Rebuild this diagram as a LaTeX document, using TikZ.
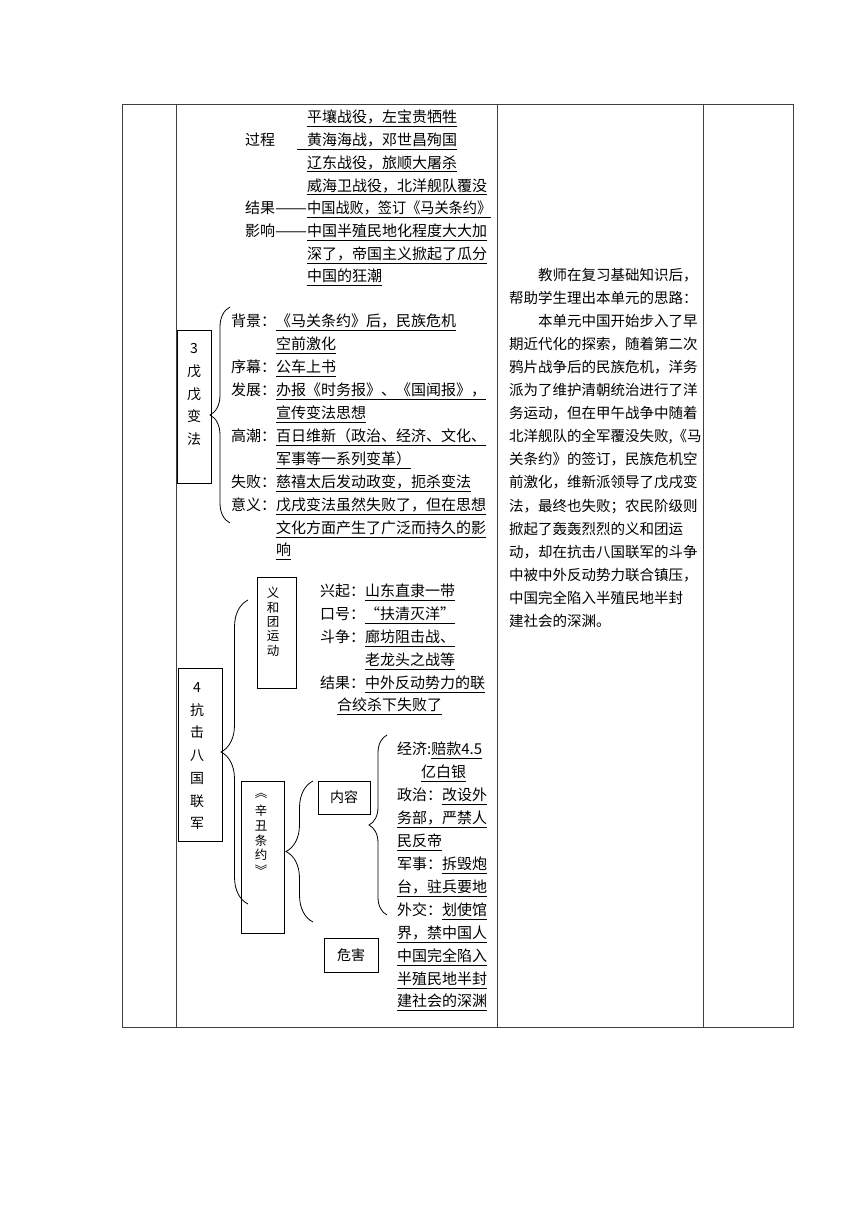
\documentclass[tikz,border=0pt]{standalone}
\usepackage{fontspec}
\setmainfont{Noto Sans CJK SC}
\usepackage{tikz}
\usetikzlibrary{decorations.pathreplacing}

% underline at a fixed depth
\newcommand\ulx[1]{\setbox0\hbox{#1}\rlap{\rule[-3.6pt]{\wd0}{0.6pt}}\box0}
\newcommand\dashx{\resizebox{32pt}{\height}{——}}

\begin{document}
\begin{tikzpicture}[x=1pt,y=-1pt,
    tbl/.style={line width=0.8pt,black!75},
    box/.style={draw,line width=0.9pt},
    txt/.style={anchor=base west,inner sep=0pt,font=\fontsize{15}{18}\selectfont},
    note/.style={anchor=base west,inner sep=0pt,font=\fontsize{14.5}{18}\selectfont},
    vch/.style={inner sep=0pt,font=\fontsize{14}{16}\selectfont},
    vsm/.style={inner sep=0pt,font=\fontsize{12.5}{14}\selectfont},
    brc/.style={decorate,decoration={brace,amplitude=#1},line width=0.8pt}]
    \useasboundingbox (0,0) rectangle (860,1216);

    % table
    \draw[tbl] (122,104) rectangle (793,1027);
    \draw[tbl] (176,104) -- (176,1027) (497,104) -- (497,1027) (703,104) -- (703,1027);

    % jiawu war
    \node[txt] (p1) at (307,122.5) {\ulx{平壤战役，左宝贵牺牲}};
    \node[txt] (gc) at (245,145.5) {过程};
    \node[txt] (p2) at (297,145.5) {\ulx{\hspace{10pt}黄海海战，邓世昌殉国}};
    \node[txt] (p3) at (307,168) {\ulx{辽东战役，旅顺大屠杀}};
    \node[txt] (p4) at (307,191) {\ulx{威海卫战役，北洋舰队覆没}};
    \node[txt] (jg) at (245,213.5) {结果\dashx\ulx{\resizebox{184pt}{\height}{中国战败，签订《马关条约》}}};
    \node[txt] (yx) at (245,236.5) {影响\dashx\ulx{中国半殖民地化程度大大加}};
    \node[txt] (yx2) at (307,259.5) {\ulx{深了，帝国主义掀起了瓜分}};
    \node[txt] (yx3) at (307,281.5) {\ulx{中国的狂潮}};

    % wuxu
    \draw[box] (177.5,330) rectangle (211,483);
    \foreach \c [count=\i from 0] in {3,戊,戊,变,法}
        \node[vch] (wx\i) at (194,349+22.5*\i) {\c};
    \coordinate (wb1) at (230,523);
    \coordinate (wb2) at (230,307);
    \draw[brc=20] (wb1) -- (wb2);
    \node[txt] (bj) at (231,326.5) {背景：\ulx{《马关条约》后，民族危机}};
    \node[txt] (bj2) at (276,349.5) {\ulx{空前激化}};
    \node[txt] (xm) at (231,372.5) {序幕：\ulx{公车上书}};
    \node[txt] (fz) at (231,395.5) {发展：\ulx{办报《时务报》、《国闻报》，}};
    \node[txt] (fz2) at (276,418.5) {\ulx{宣传变法思想}};
    \node[txt] (gch) at (231,441.5) {高潮：\ulx{百日维新（政治、经济、文化、}};
    \node[txt] (gch2) at (276,464.5) {\ulx{军事等一系列变革）}};
    \node[txt] (sb) at (231,487.5) {失败：\ulx{慈禧太后发动政变，扼杀变法}};
    \node[txt] (yy) at (231,510.5) {意义：\ulx{戊戌变法虽然失败了，但在思想}};
    \node[txt] (yy2) at (276,533.5) {\ulx{文化方面产生了广泛而持久的影}};
    \node[txt] (yy3) at (276,555.5) {\ulx{响}};

    % baguo lianjun
    \draw[box] (178,668) rectangle (222,841);
    \foreach \c [count=\i from 0] in {4,抗,击,八,国,联,军}
        \node[vch] (bg\i) at (197,687+22.8*\i) {\c};
    \coordinate (bb1) at (248,904);
    \coordinate (bb2) at (248,600);
    \draw[brc=27] (bb1) -- (bb2);

    \draw[box] (257,577) rectangle (296,688);
    \foreach \c [count=\i from 0] in {义,和,团,运,动}
        \node[vsm] (yh\i) at (273,593+14.5*\i) {\c};
    \node[txt] (xq) at (320,596.5) {兴起：\ulx{山东直隶一带}};
    \node[txt] (kh) at (320,619.5) {口号：\ulx{\makebox[15pt][r]{“}扶清灭洋\makebox[15pt][l]{”}}};
    \node[txt] (dz) at (320,642.5) {斗争：\ulx{廊坊阻击战、}};
    \node[txt] (dz2) at (365,665.5) {\ulx{老龙头之战等}};
    \node[txt] (jg2) at (320,688.5) {结果：\ulx{中外反动势力的联}};
    \node[txt] (jg3) at (337,710.5) {\ulx{合绞杀下失败了}};

    \draw[box] (241,781) rectangle (284,933);
    \foreach \c [count=\i from 0] in {︽,辛,丑,条,约,︾}
        \node[vsm] (xc\i) at (261,796+14.8*\i) {\c};
    \coordinate (xb1) at (313,922);
    \coordinate (xb2) at (313,781);
    \draw[brc=27] (xb1) -- (xb2);

    \draw[box] (318,781) rectangle (370,814) node[pos=.5,vch] (nr) {内容};
    \draw[box] (324,938) rectangle (378,972) node[pos=.5,vch] (wh) {危害};
    \coordinate (nb1) at (387,915);
    \coordinate (nb2) at (387,735);
    \draw[brc=18] (nb1) -- (nb2);

    \node[txt] (jj) at (397,754.5) {经济:\ulx{赔款4.5}};
    \node[txt] (jj2) at (421,777.5) {\ulx{亿白银}};
    \node[txt] (zz) at (397,800.5) {政治：\ulx{改设外}};
    \node[txt] (zz2) at (397,823.5) {\ulx{务部，严禁人}};
    \node[txt] (zz3) at (397,846.5) {\ulx{民反帝}};
    \node[txt] (js) at (397,869.5) {军事：\ulx{拆毁炮}};
    \node[txt] (js2) at (397,892.5) {\ulx{台，驻兵要地}};
    \node[txt] (wj) at (397,915.5) {外交：\ulx{划使馆}};
    \node[txt] (wj2) at (397,938.5) {\ulx{界，禁中国人}};
    \node[txt] (wh1) at (397,961.5) {\ulx{中国完全陷入}};
    \node[txt] (wh2) at (397,984.5) {\ulx{半殖民地半封}};
    \node[txt] (wh3) at (397,1006.5) {\ulx{建社会的深渊}};

    % teaching notes
    \node[note] (t1) at (538,280.3) {教师在复习基础知识后，};
    \node[note] (t2) at (509,303.4) {帮助学生理出本单元的思路：};
    \node[note] (t3) at (538,326.4) {本单元中国开始步入了早};
    \node[note] (t4) at (509,349.5) {期近代化的探索，随着第二次};
    \node[note] (t5) at (509,372.6) {鸦片战争后的民族危机，洋务};
    \node[note] (t6) at (509,395.7) {派为了维护清朝统治进行了洋};
    \node[note] (t7) at (509,418.7) {务运动，但在甲午战争中随着};
    \node[note] (t8) at (509,441.8) {北洋舰队的全军覆没失败,《马};
    \node[note] (t9) at (509,464.9) {关条约》的签订，民族危机空};
    \node[note] (t10) at (509,487.9) {前激化，维新派领导了戊戌变};
    \node[note] (t11) at (509,511) {法，最终也失败；农民阶级则};
    \node[note] (t12) at (509,534.1) {掀起了轰轰烈烈的义和团运};
    \node[note] (t13) at (509,557.1) {动，却在抗击八国联军的斗争};
    \node[note] (t14) at (509,580.2) {中被中外反动势力联合镇压，};
    \node[note] (t15) at (509,603.3) {中国完全陷入半殖民地半封};
    \node[note] (t16) at (509,626.3) {建社会的深渊。};
\end{tikzpicture}
\end{document}
